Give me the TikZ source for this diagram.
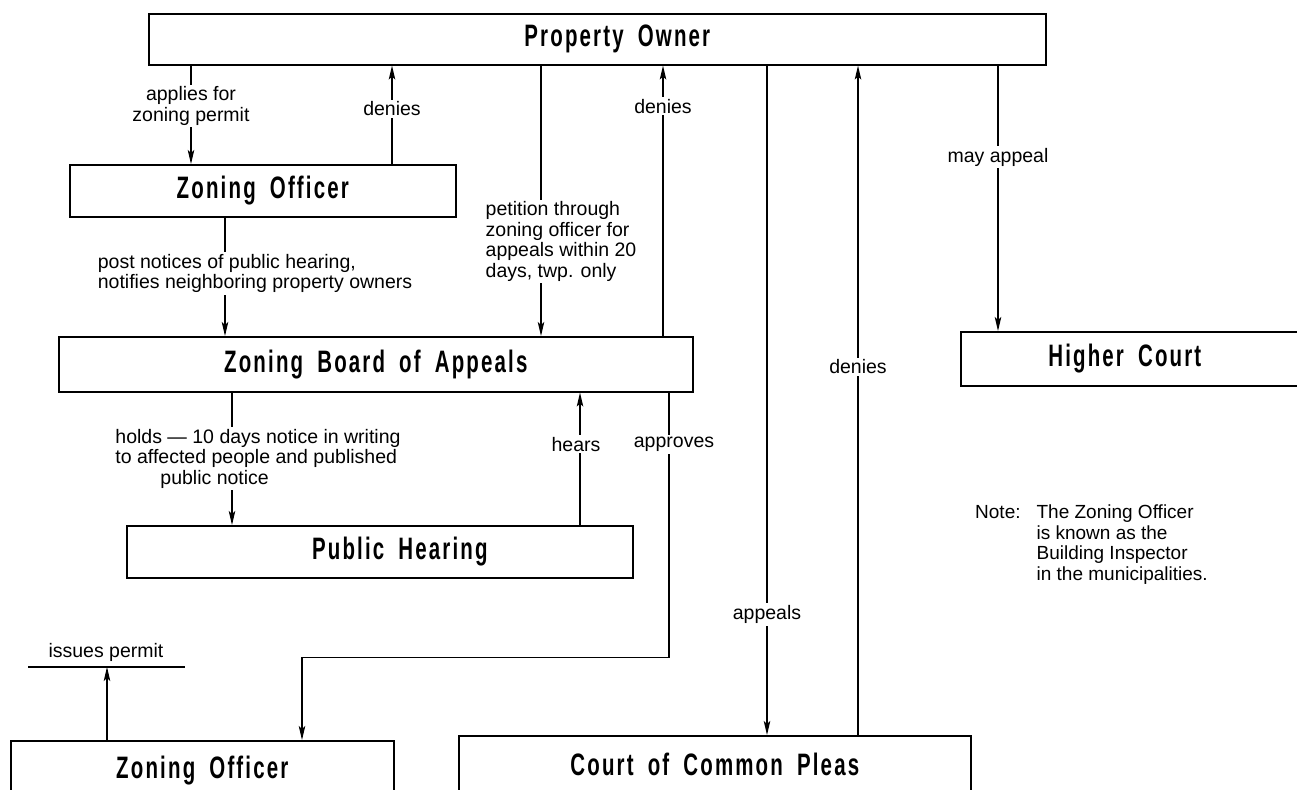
\documentclass[tikz,border=0pt]{standalone}
\usepackage{fontspec}
\setmainfont{Liberation Sans}
\newfontfamily\titlefont{Liberation Sans}[FakeStretch=0.66,LetterSpace=7,WordSpace=1.8]
\usetikzlibrary{arrows.meta,calc}
\begin{document}
\begin{tikzpicture}[x=1pt,y=-1pt,
  box/.style={draw, line width=1.6pt, inner sep=0pt, anchor=north west,
    font=\titlefont\bfseries\fontsize{31}{33}\selectfont},
  conn/.style={line width=1.2pt},
  arr/.style={conn, -{Stealth[length=14pt,width=6.5pt,inset=3pt]}},
  lbl/.style={fill=white, inner sep=2pt, font=\fontsize{19.5}{20.5}\selectfont, align=center},
  lbll/.style={lbl, align=left},
]
\useasboundingbox (0,0) rectangle (1297,789);
\clip (0,0) rectangle (1297,789);

% boxes
\node[box, minimum width=897pt, minimum height=51pt] (po) at (148,13) {\hspace*{40pt}Property Owner};
\node[box, minimum width=386pt, minimum height=52pt] (zo) at (69,164) {Zoning Officer};
\node[box, minimum width=634pt, minimum height=55pt] (zba) at (58,336) {Zoning Board of Appeals};
\node[box, minimum width=506pt, minimum height=52pt] (ph) at (126,525) {\hspace*{40pt}Public Hearing};
\node[box, minimum width=350pt, minimum height=54pt] (hc) at (960,331) {Higher Court\hspace*{22pt}};
\node[box, minimum width=383pt, minimum height=60pt] (zo2) at (10,740) {Zoning Officer};
\node[box, minimum width=512pt, minimum height=58pt] (ccp) at (458,735) {Court of Common Pleas};

% connectors
\draw[arr] ([xshift=43pt]po.south west) -- node[lbl, pos=.41] {applies for\\zoning permit} ([xshift=122pt]zo.north west);
\draw[arr] ([xshift=323pt]zo.north west) -- node[lbl, pos=.56] {denies} ([xshift=244pt]po.south west);
\draw[arr] ([xshift=393pt]po.south west) -- node[lbll, pos=.65, xshift=20pt] {petition through\\zoning officer for\\appeals within 20\\days, twp. only} ([xshift=483pt]zba.north west);
\draw[arr] ([xshift=605pt]zba.north west) -- node[lbl, pos=.85] {denies} ([xshift=515pt]po.south west);
\draw[arr] ([xshift=619pt]po.south west) -- node[lbl, pos=.82] {appeals} ([xshift=309pt]ccp.north west);
\draw[arr] ([xshift=400pt]ccp.north west) -- node[lbl, pos=.55] {denies} ([xshift=710pt]po.south west);
\draw[arr] ([xshift=850pt]po.south west) -- node[lbl, pos=.345] {may appeal} ([xshift=38pt]hc.north west);
\draw[arr] ([xshift=156pt]zo.south west) -- node[lbll, pos=.47, xshift=30pt] {post notices of public hearing,\\notifies neighboring property owners} ([xshift=167pt]zba.north west);
\draw[arr] ([xshift=174pt]zba.south west) -- node[lbll, pos=.5, xshift=26pt] {holds --- 10 days notice in writing\\to affected people and published\\\hspace*{45pt}public notice} ([xshift=106pt]ph.north west);
\draw[arr] ([xshift=454pt]ph.north west) -- node[lbl, pos=.61, xshift=-4pt] {hears} ([xshift=522pt]zba.south west);
\draw[arr] ([xshift=611pt]zba.south west) -- node[lbl, pos=.196, xshift=5pt] {approves} ++(0,265) -| ([xshift=292pt]zo2.north west);

% issues permit
\coordinate (ipL) at (28,667);
\coordinate (ipR) at (185,667);
\coordinate (ip) at (107,667);
\draw[conn] (ipL) -- (ipR);
\draw[arr] ([xshift=97pt]zo2.north west) -- (ip);
\node[font=\fontsize{19.5}{20.5}\selectfont, inner sep=0pt] (iptext) at (106,652) {issues permit};

% note
\node[anchor=north west, inner sep=0pt, font=\fontsize{19}{20.5}\selectfont] (note) at (975,504)
  {\begin{tabular}{@{}l@{\hspace{16pt}}l@{}}Note: & The Zoning Officer\\ & is known as the\\ & Building Inspector\\ & in the municipalities.\end{tabular}};
\end{tikzpicture}
\end{document}
